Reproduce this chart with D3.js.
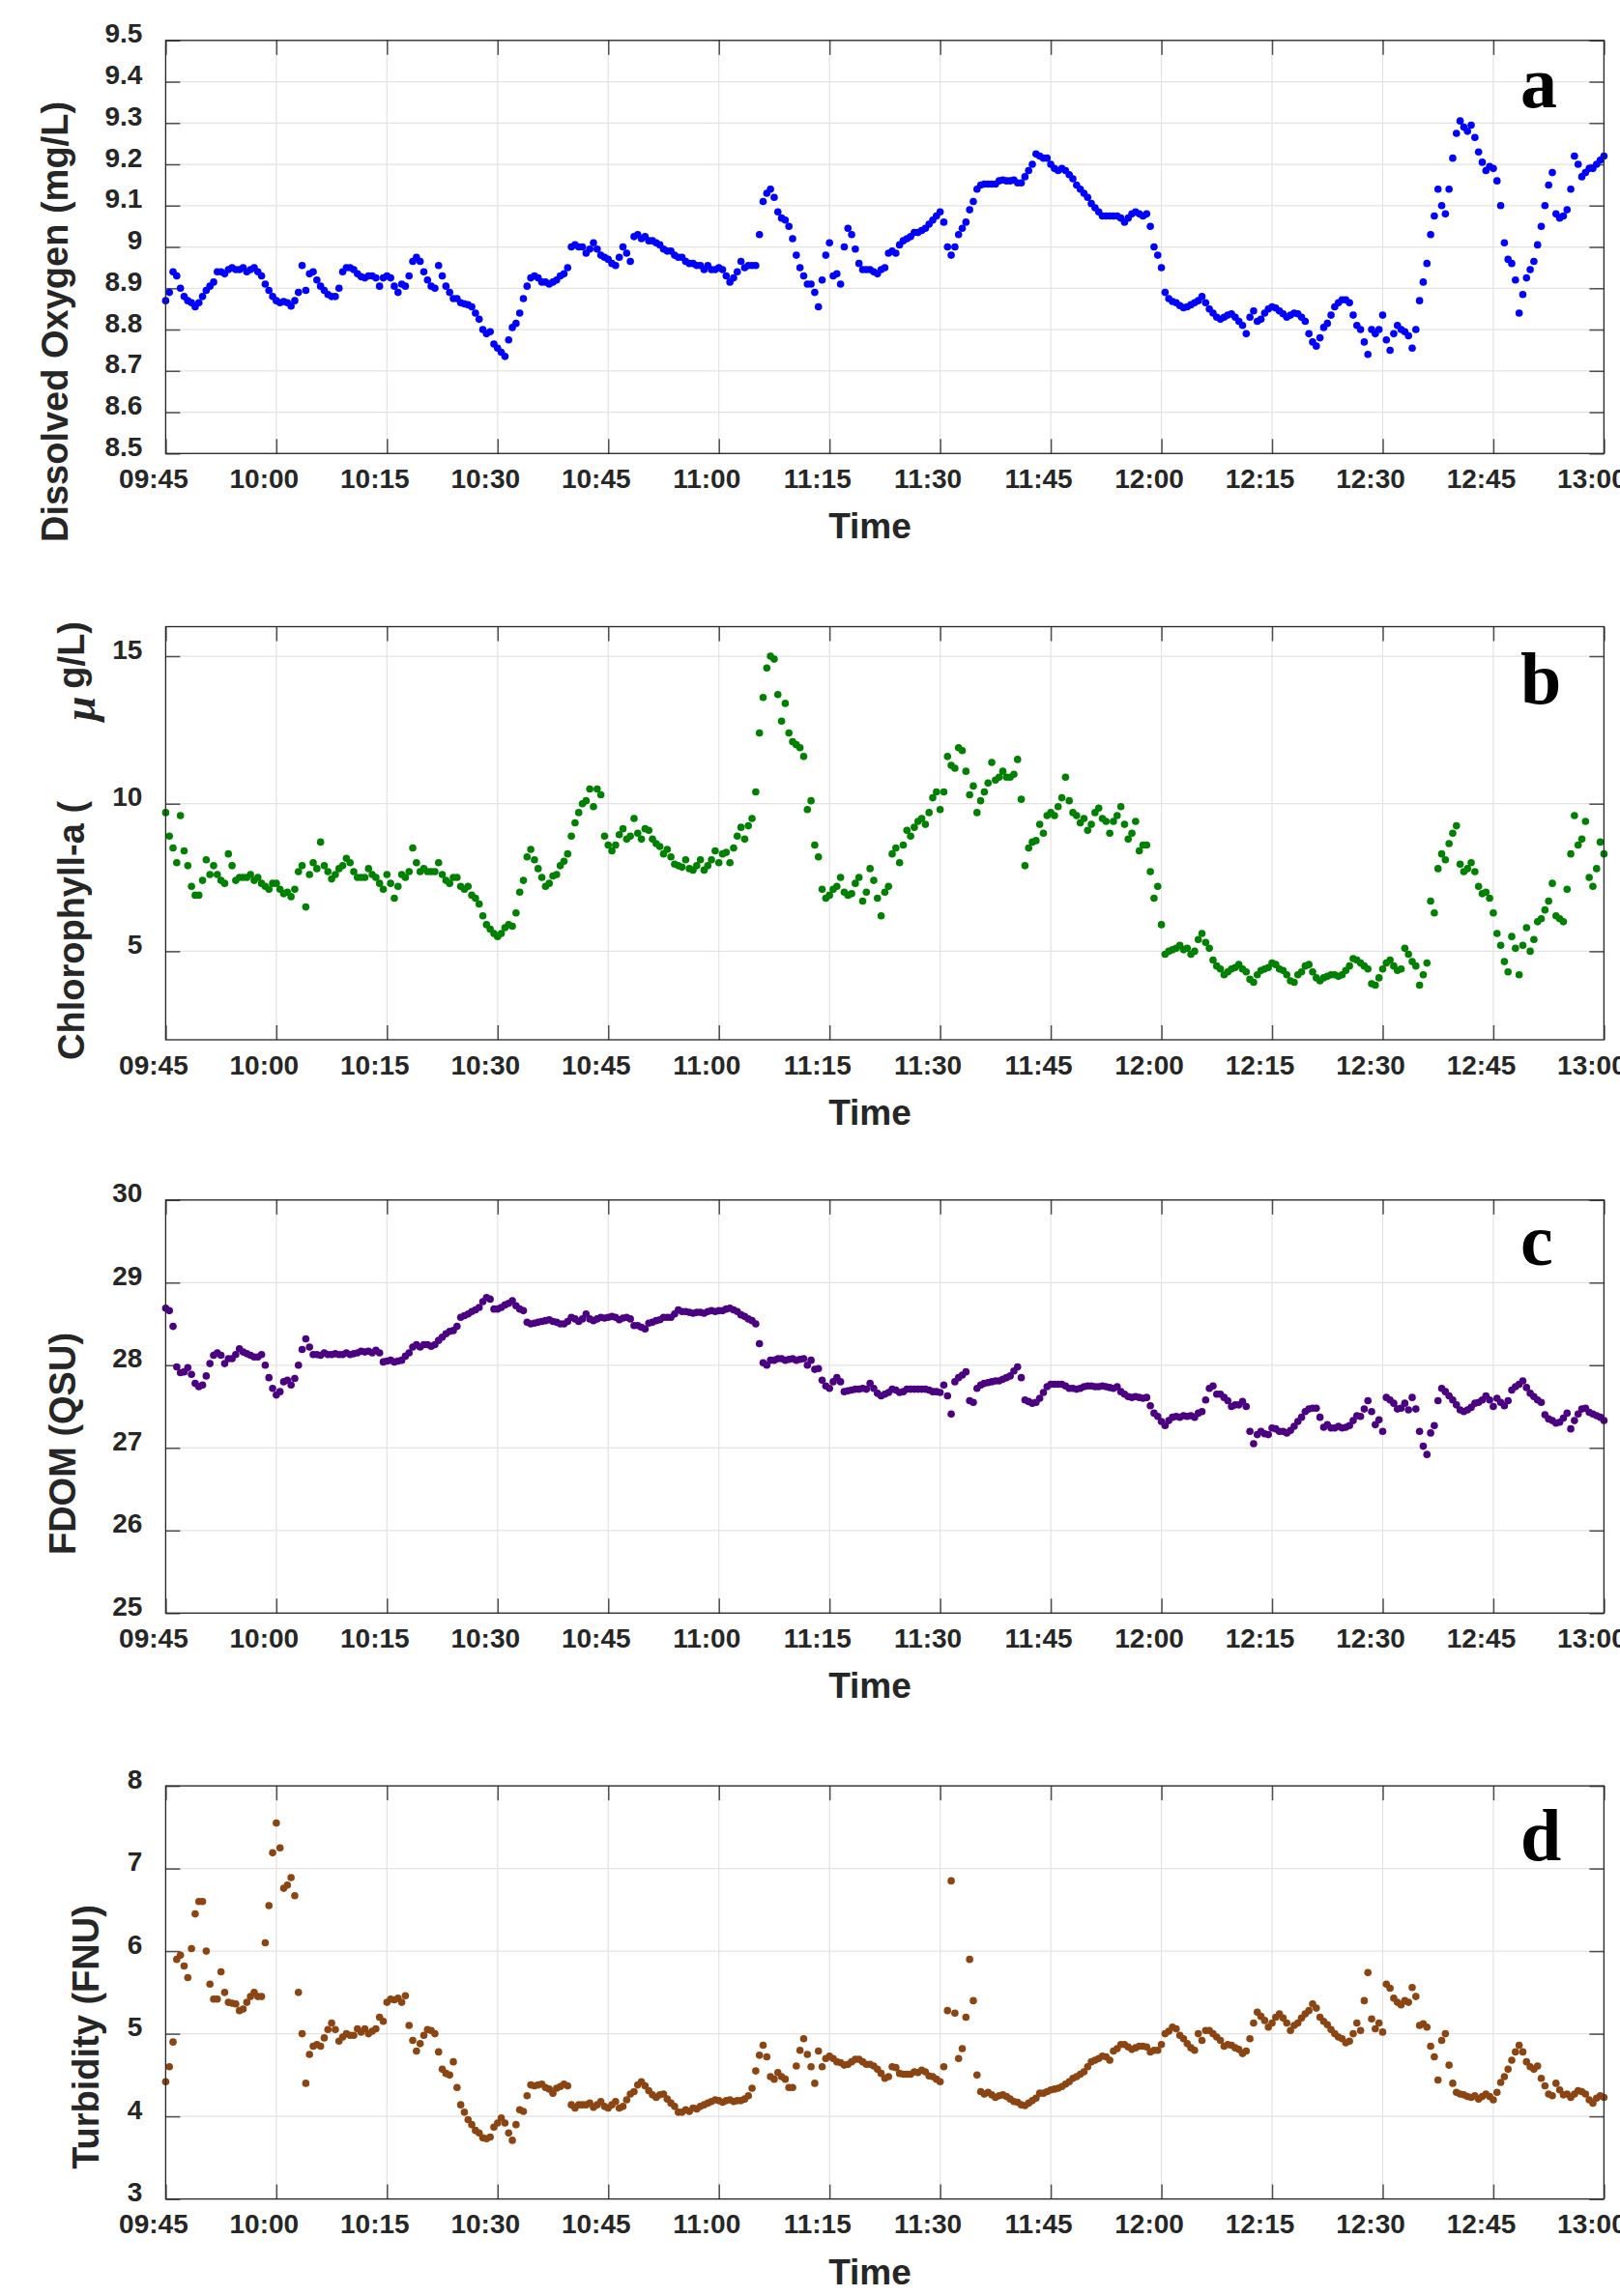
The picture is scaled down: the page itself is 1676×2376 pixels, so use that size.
<!DOCTYPE html>
<meta charset="utf-8">
<script src="https://d3js.org/d3.v7.min.js"></script>
<style>
  body { margin: 0; background: #fff; }
</style>
<svg id="chart" width="1676" height="2376"></svg>

<script>
  // sampling grid of the logger: one reading every 30 s
  const startTime = "09:45";
  const endTime = "13:00";
  const stepSeconds = 30;
  const timeTicks = ["09:45", "10:00", "10:15", "10:30", "10:45", "11:00", "11:15",
    "11:30", "11:45", "12:00", "12:15", "12:30", "12:45", "13:00"];

  // Dissolved oxygen (mg/L), one line per 15 minutes
  const doValues = [
    8.87,8.89,8.94,8.93,8.90,8.88,8.87,8.865,8.855,8.865,8.88,8.895,8.905,8.915,8.94,8.94,8.935,8.945,8.95,8.945,8.945,8.95,8.94,8.945,8.95,8.94,8.93,8.91,8.895,8.88,
    8.87,8.865,8.868,8.865,8.857,8.87,8.89,8.955,8.895,8.935,8.94,8.92,8.905,8.895,8.885,8.88,8.88,8.90,8.94,8.95,8.95,8.945,8.935,8.928,8.925,8.93,8.93,8.925,8.905,8.925,
    8.93,8.925,8.905,8.89,8.91,8.905,8.93,8.965,8.975,8.965,8.94,8.92,8.905,8.90,8.955,8.93,8.905,8.89,8.875,8.875,8.865,8.862,8.86,8.855,8.84,8.825,8.80,8.79,8.795,8.765,
    8.755,8.745,8.735,8.775,8.805,8.815,8.84,8.875,8.905,8.925,8.93,8.925,8.915,8.915,8.91,8.915,8.92,8.93,8.935,8.95,9.00,9.005,9.00,9.00,8.985,8.995,9.01,8.995,8.98,8.975,
    8.97,8.96,8.955,8.975,9.0,8.985,8.965,9.025,9.03,9.02,9.025,9.015,9.015,9.01,9.005,8.995,8.99,8.99,8.98,8.975,8.975,8.965,8.96,8.96,8.955,8.955,8.945,8.955,8.945,8.945,
    8.95,8.945,8.93,8.915,8.925,8.94,8.965,8.95,8.955,8.955,8.955,9.03,9.11,9.13,9.14,9.12,9.085,9.07,9.065,9.05,9.02,8.98,8.95,8.93,8.91,8.91,8.89,8.855,8.92,8.98,
    9.01,8.93,8.935,8.91,9.0,9.045,9.03,8.995,8.96,8.945,8.945,8.945,8.94,8.935,8.945,8.95,8.985,8.99,8.985,9.005,9.015,9.02,9.025,9.035,9.035,9.04,9.045,9.055,9.065,9.075,
    9.085,9.06,9.0,8.98,9.0,9.03,9.045,9.06,9.09,9.11,9.14,9.15,9.152,9.152,9.152,9.152,9.16,9.162,9.16,9.16,9.162,9.155,9.155,9.17,9.185,9.2,9.225,9.22,9.215,9.215,
    9.2,9.19,9.185,9.19,9.185,9.175,9.165,9.15,9.14,9.13,9.12,9.105,9.095,9.085,9.075,9.075,9.075,9.075,9.075,9.07,9.06,9.07,9.08,9.085,9.08,9.075,9.08,9.05,9.0,8.98,
    8.95,8.89,8.875,8.868,8.865,8.858,8.853,8.855,8.86,8.865,8.87,8.88,8.865,8.85,8.84,8.83,8.825,8.83,8.835,8.838,8.83,8.82,8.81,8.79,8.83,8.845,8.82,8.825,8.84,8.85,
    8.855,8.852,8.845,8.838,8.83,8.835,8.84,8.838,8.83,8.82,8.79,8.77,8.76,8.78,8.805,8.815,8.835,8.855,8.865,8.872,8.872,8.865,8.835,8.81,8.8,8.77,8.74,8.8,8.79,8.8,
    8.835,8.775,8.75,8.79,8.81,8.8,8.795,8.785,8.755,8.8,8.87,8.915,8.96,9.03,9.075,9.14,9.1,9.08,9.14,9.215,9.275,9.305,9.29,9.28,9.295,9.265,9.23,9.205,9.185,9.195,
    9.19,9.16,9.1,9.01,8.97,8.96,8.92,8.84,8.885,8.925,8.945,8.965,9.005,9.05,9.1,9.15,9.18,9.08,9.07,9.075,9.09,9.14,9.22,9.2,9.17,9.18,9.19,9.19,9.2,9.21,9.22
  ];

  // Chlorophyll-a (ug/L)
  const chlValues = [
    9.7,8.9,8.5,8.0,9.6,8.4,7.9,7.2,6.9,6.9,7.4,8.1,7.6,7.9,7.6,7.4,7.3,8.3,7.9,7.4,7.5,7.5,7.5,7.6,7.4,7.5,7.3,7.2,7.1,7.3,
    7.3,7.1,6.95,7.0,6.85,7.1,7.7,7.9,6.5,7.6,8.0,7.8,8.7,7.9,7.7,7.45,7.6,7.8,7.9,8.15,8.0,7.7,7.5,7.5,7.5,7.8,7.6,7.5,7.3,7.1,
    7.6,7.3,6.8,7.2,7.6,7.5,7.7,8.5,8.0,7.7,7.8,7.7,7.7,7.7,8.0,7.6,7.4,7.3,7.5,7.5,7.2,7.1,7.2,6.9,6.8,6.6,6.2,5.9,5.75,5.6,
    5.5,5.6,5.8,5.9,5.85,6.3,7.0,7.4,8.2,8.45,8.1,7.8,7.5,7.2,7.3,7.55,7.6,7.9,8.05,8.3,8.9,9.35,9.7,10.0,10.1,10.5,9.9,10.5,10.3,8.9,
    8.6,8.4,8.6,8.95,9.15,8.8,8.9,9.5,9.0,8.8,9.15,9.1,8.8,8.65,8.55,8.3,8.45,8.2,7.95,7.9,7.85,8.1,7.8,7.75,7.9,8.1,7.75,7.9,8.1,8.4,
    8.0,8.3,8.35,8.0,8.5,8.9,9.2,8.8,9.25,9.5,10.4,12.4,13.6,14.6,15.0,14.9,13.7,12.8,13.4,12.4,12.1,12.0,11.9,11.6,9.8,10.1,8.6,8.2,7.1,6.8,
    6.9,7.1,7.2,7.5,7.0,6.9,6.95,7.3,7.5,6.7,7.0,7.8,7.4,6.8,6.2,7.0,7.2,8.3,8.5,8.0,8.6,9.1,8.9,9.2,9.4,9.5,9.3,9.7,10.2,10.4,
    9.8,10.4,11.6,11.3,11.2,11.9,11.8,11.1,10.3,10.6,9.7,10.1,10.4,10.7,11.4,10.8,10.9,11.1,10.9,10.9,11.0,11.5,10.15,7.9,8.5,8.7,8.75,9.3,9.0,9.6,
    9.7,9.6,9.9,10.2,10.9,10.1,9.7,9.6,9.35,9.5,9.1,9.3,9.7,9.85,9.5,9.4,9.0,9.4,9.6,9.9,9.3,8.8,9.0,9.4,8.4,8.6,8.6,7.7,6.8,7.2,
    5.9,4.9,5.0,5.05,5.1,5.2,5.05,5.1,4.9,5.0,5.4,5.6,5.3,5.1,4.7,4.5,4.4,4.2,4.3,4.4,4.45,4.55,4.4,4.3,4.05,3.95,4.2,4.35,4.4,4.45,
    4.6,4.55,4.4,4.35,4.2,4.0,3.95,4.2,4.3,4.5,4.55,4.3,4.1,4.0,4.1,4.15,4.2,4.2,4.15,4.2,4.35,4.5,4.75,4.7,4.6,4.5,4.4,3.9,3.85,4.1,
    4.4,4.6,4.7,4.5,4.35,4.4,5.1,4.9,4.65,4.5,3.85,4.2,4.6,6.7,6.3,7.8,8.3,8.1,8.65,9.0,9.25,7.95,7.7,7.8,8.0,7.7,7.2,6.95,7.0,6.8,
    6.3,5.6,5.2,4.65,4.3,5.5,5.1,4.2,5.2,5.8,5.0,5.4,6.0,6.1,6.4,6.7,7.3,6.2,6.1,6.0,7.1,8.3,9.6,8.6,8.8,9.4,7.5,7.2,7.8,8.7,8.3
  ];

  // FDOM (QSU)
  const fdomValues = [
    28.69,28.66,28.47,27.98,27.91,27.92,27.97,27.89,27.78,27.74,27.76,27.87,28.02,28.12,28.15,28.12,28.02,28.08,28.08,28.13,28.2,28.16,28.14,28.12,28.1,28.1,28.13,28.0,27.85,27.72,
    27.64,27.68,27.8,27.82,27.76,27.84,28.0,28.19,28.32,28.22,28.13,28.13,28.12,28.15,28.13,28.13,28.14,28.13,28.13,28.15,28.13,28.14,28.15,28.17,28.16,28.17,28.15,28.18,28.15,28.04,
    28.05,28.06,28.04,28.05,28.06,28.11,28.15,28.22,28.25,28.22,28.25,28.25,28.23,28.25,28.3,28.34,28.38,28.41,28.42,28.47,28.58,28.6,28.62,28.65,28.67,28.7,28.77,28.82,28.8,28.68,
    28.68,28.7,28.73,28.75,28.78,28.72,28.68,28.66,28.52,28.5,28.51,28.52,28.53,28.54,28.55,28.53,28.52,28.5,28.5,28.53,28.58,28.56,28.53,28.56,28.62,28.56,28.54,28.56,28.58,28.57,
    28.58,28.59,28.58,28.55,28.57,28.58,28.56,28.48,28.48,28.46,28.44,28.51,28.52,28.54,28.55,28.58,28.58,28.58,28.62,28.67,28.65,28.65,28.64,28.63,28.64,28.64,28.63,28.65,28.66,28.65,
    28.66,28.66,28.68,28.69,28.67,28.65,28.61,28.59,28.56,28.54,28.5,28.26,28.03,28.0,28.06,28.06,28.08,28.08,28.06,28.07,28.08,28.06,28.07,28.08,28.0,28.06,27.95,27.96,27.82,27.75,
    27.72,27.8,27.85,27.8,27.68,27.69,27.7,27.71,27.71,27.72,27.71,27.78,27.72,27.66,27.63,27.65,27.67,27.71,27.7,27.67,27.68,27.71,27.71,27.71,27.71,27.71,27.71,27.7,27.68,27.68,
    27.67,27.76,27.63,27.41,27.8,27.85,27.88,27.92,27.57,27.55,27.72,27.76,27.78,27.79,27.8,27.81,27.81,27.83,27.85,27.87,27.93,27.98,27.85,27.58,27.56,27.54,27.55,27.6,27.67,27.74,
    27.77,27.77,27.77,27.77,27.75,27.72,27.72,27.71,27.72,27.74,27.75,27.75,27.74,27.74,27.75,27.74,27.73,27.72,27.74,27.68,27.65,27.62,27.61,27.62,27.61,27.6,27.61,27.51,27.42,27.38,
    27.32,27.27,27.33,27.37,27.38,27.37,27.39,27.38,27.39,27.37,27.42,27.44,27.58,27.72,27.75,27.65,27.65,27.61,27.57,27.5,27.52,27.52,27.56,27.5,27.2,27.05,27.16,27.2,27.17,27.16,
    27.24,27.23,27.2,27.2,27.18,27.21,27.26,27.32,27.37,27.44,27.47,27.48,27.48,27.37,27.25,27.28,27.24,27.24,27.26,27.24,27.25,27.27,27.33,27.39,27.38,27.47,27.57,27.44,27.28,27.34,
    27.2,27.61,27.58,27.54,27.47,27.48,27.54,27.46,27.61,27.47,27.2,27.02,26.92,27.18,27.27,27.57,27.72,27.68,27.63,27.58,27.52,27.46,27.44,27.46,27.49,27.54,27.55,27.58,27.63,27.58,
    27.5,27.6,27.55,27.51,27.57,27.7,27.74,27.77,27.81,27.73,27.66,27.62,27.58,27.55,27.4,27.35,27.33,27.3,27.31,27.36,27.42,27.23,27.33,27.41,27.47,27.48,27.43,27.41,27.39,27.37,27.33
  ];

  // Turbidity (FNU)
  const turbValues = [
    4.42,4.6,4.9,5.9,5.95,5.82,5.68,6.03,6.45,6.6,6.6,6.0,5.6,5.42,5.42,5.75,5.5,5.38,5.37,5.36,5.28,5.3,5.38,5.45,5.5,5.45,5.45,6.1,6.55,7.19,
    7.55,7.25,6.76,6.8,6.89,6.67,5.5,5.0,4.4,4.75,4.85,4.87,4.85,4.95,5.05,5.13,5.05,4.91,4.96,5.0,4.98,4.98,5.06,5.02,5.06,5.0,5.03,5.06,5.2,5.15,
    5.38,5.42,5.41,5.43,5.38,5.46,5.1,4.92,4.79,4.88,4.98,5.05,5.04,5.0,4.78,4.57,4.52,4.5,4.66,4.35,4.14,4.05,3.96,3.9,3.83,3.8,3.74,3.73,3.75,3.87,
    3.92,3.98,3.92,3.8,3.71,3.9,4.08,4.06,4.25,4.38,4.37,4.38,4.39,4.35,4.33,4.28,4.34,4.36,4.39,4.37,4.14,4.1,4.14,4.14,4.14,4.16,4.11,4.14,4.18,4.12,
    4.1,4.14,4.18,4.1,4.12,4.2,4.27,4.3,4.38,4.42,4.37,4.31,4.26,4.23,4.26,4.27,4.21,4.16,4.12,4.05,4.05,4.08,4.06,4.1,4.09,4.12,4.14,4.16,4.18,4.2,
    4.19,4.17,4.19,4.2,4.18,4.19,4.19,4.21,4.25,4.34,4.55,4.74,4.86,4.72,4.48,4.45,4.53,4.48,4.45,4.35,4.35,4.61,4.8,4.94,4.75,4.6,4.4,4.79,4.6,4.7,
    4.73,4.7,4.66,4.65,4.62,4.63,4.66,4.69,4.69,4.66,4.63,4.63,4.61,4.57,4.52,4.46,4.48,4.6,4.59,4.52,4.51,4.51,4.51,4.54,4.53,4.56,4.54,4.49,4.48,4.45,
    4.42,4.6,5.28,6.85,5.25,4.7,4.82,5.2,5.9,5.4,4.5,4.3,4.27,4.29,4.26,4.23,4.25,4.26,4.24,4.21,4.18,4.17,4.14,4.13,4.16,4.19,4.22,4.28,4.28,4.3,
    4.32,4.33,4.34,4.36,4.39,4.42,4.46,4.48,4.51,4.54,4.6,4.66,4.68,4.7,4.73,4.72,4.68,4.79,4.82,4.87,4.87,4.84,4.81,4.83,4.85,4.85,4.84,4.78,4.8,4.8,
    4.87,5.0,5.03,5.08,5.06,4.98,4.94,4.88,4.83,4.8,5.0,4.92,5.04,5.04,5.0,4.96,4.92,4.85,4.87,4.86,4.83,4.81,4.76,4.79,4.94,5.13,5.26,5.21,5.16,5.08,
    5.13,5.2,5.24,5.19,5.13,5.04,5.1,5.13,5.19,5.24,5.28,5.36,5.31,5.2,5.15,5.11,5.05,5.0,4.96,4.94,4.89,4.91,5.0,5.13,5.04,5.4,5.74,5.18,5.06,5.13,
    5.02,5.6,5.55,5.43,5.38,5.35,5.4,5.38,5.56,5.45,5.1,5.12,5.08,4.85,4.72,4.44,4.92,5.0,4.62,4.4,4.29,4.27,4.26,4.24,4.23,4.25,4.21,4.24,4.27,4.24,
    4.2,4.29,4.41,4.48,4.57,4.68,4.78,4.86,4.78,4.66,4.6,4.57,4.61,4.46,4.37,4.27,4.25,4.4,4.32,4.26,4.27,4.23,4.27,4.31,4.3,4.27,4.2,4.16,4.22,4.25,4.23
  ];

  // y axes
  const doDomain = [8.5, 9.5];
  const doTicks = [8.5, 8.6, 8.7, 8.8, 8.9, 9.0, 9.1, 9.2, 9.3, 9.4, 9.5];
  const chlDomain = [2, 16];
  const chlTicks = [5, 10, 15];
  const fdomDomain = [25, 30];
  const fdomTicks = [25, 26, 27, 28, 29, 30];
  const turbDomain = [3, 8];
  const turbTicks = [3, 4, 5, 6, 7, 8];

  // ---- layout ----
  const left = 171.4, right = 1659.4, plotH = 427.5;
  const sans = "'Liberation Sans', Arial, Helvetica, sans-serif";
  const serif = "'Liberation Serif', 'Times New Roman', serif";
  const ink = "#262626";

  const panels = [
    { values: doValues, domain: doDomain, ticks: doTicks, color: "#0000ff", letter: "a",
      top: 41.8, letterY: 69, label: "Dissolved Oxygen (mg/L)", labelX: 70, labelY: 333 },
    { values: chlValues, domain: chlDomain, ticks: chlTicks, color: "#008000", letter: "b",
      top: 648.5, letterY: 79, label: null },
    { values: fdomValues, domain: fdomDomain, ticks: fdomTicks, color: "#4b0082", letter: "c",
      top: 1241.8, letterY: 67, label: "FDOM (QSU)", labelX: 78, labelY: 1494 },
    { values: turbValues, domain: turbDomain, ticks: turbTicks, color: "#8b4513", letter: "d",
      top: 1848.1, letterY: 77, label: "Turbidity (FNU)", labelX: 102, labelY: 2108 }
  ];

  const svg = d3.select("#chart");
  svg.append("rect").attr("width", 1676).attr("height", 2376).attr("fill", "#fff");

  const parse = d3.timeParse("%H:%M");
  const t0 = parse(startTime);
  const x = d3.scaleTime()
    .domain([t0, parse(endTime)])
    .range([left, right]);
  const xTickValues = timeTicks.map(parse);

  function styleAxis(g) {
    g.select(".domain").remove();
    g.selectAll(".tick line").attr("stroke", "#4d4d4d").attr("stroke-width", 1.5);
    g.attr("font-family", sans).attr("font-size", 28).attr("font-weight", "bold");
    g.selectAll("text").attr("fill", ink);
  }

  panels.forEach(p => {
    const g = svg.append("g").attr("transform", `translate(0,${p.top})`);
    const y = d3.scaleLinear().domain(p.domain).range([plotH, 0]);

    // grid
    g.append("g")
      .selectAll("line.vg")
      .data(xTickValues)
      .join("line")
      .attr("x1", d => x(d)).attr("x2", d => x(d))
      .attr("y1", 0).attr("y2", plotH)
      .attr("stroke", "#e3e3e3").attr("stroke-width", 1.2);
    g.append("g")
      .selectAll("line.hg")
      .data(p.ticks)
      .join("line")
      .attr("x1", left).attr("x2", right)
      .attr("y1", d => y(d)).attr("y2", d => y(d))
      .attr("stroke", "#e3e3e3").attr("stroke-width", 1.2);

    // axes, ticks pointing inward on all four sides
    g.append("g")
      .attr("transform", `translate(0,${plotH})`)
      .call(d3.axisBottom(x).tickValues(xTickValues).tickSize(-15).tickSizeOuter(0)
        .tickPadding(16).tickFormat(d3.timeFormat("%H:%M")))
      .call(styleAxis)
      .selectAll("text").attr("dx", -13);
    g.append("g")
      .call(d3.axisTop(x).tickValues(xTickValues).tickSize(-15).tickSizeOuter(0).tickFormat(""))
      .call(styleAxis);
    g.append("g")
      .attr("transform", `translate(${left},0)`)
      .call(d3.axisLeft(y).tickValues(p.ticks).tickSize(-15).tickSizeOuter(0)
        .tickPadding(24).tickFormat(d3.format("~g")))
      .call(styleAxis)
      .selectAll("text").attr("transform", "translate(0,-7)");
    g.append("g")
      .attr("transform", `translate(${right},0)`)
      .call(d3.axisRight(y).tickValues(p.ticks).tickSize(-15).tickSizeOuter(0).tickFormat(""))
      .call(styleAxis);

    // readings
    g.append("g")
      .selectAll("circle")
      .data(p.values)
      .join("circle")
      .attr("cx", (d, i) => x(d3.timeSecond.offset(t0, i * stepSeconds)))
      .attr("cy", d => y(d))
      .attr("r", 3.8)
      .attr("fill", p.color);

    // box
    g.append("rect")
      .attr("x", left).attr("y", 0)
      .attr("width", right - left).attr("height", plotH)
      .attr("fill", "none").attr("stroke", ink).attr("stroke-width", 1.3);

    // x label
    g.append("text")
      .attr("x", 900).attr("y", plotH + 88)
      .attr("text-anchor", "middle")
      .attr("font-family", sans).attr("font-size", 37).attr("font-weight", "bold")
      .attr("fill", ink)
      .text("Time");

    // panel letter
    g.append("text")
      .attr("x", 1573).attr("y", p.letterY)
      .attr("font-family", serif).attr("font-size", 76).attr("font-weight", "bold")
      .attr("fill", "#000")
      .text(p.letter);

    // y label
    if (p.label) {
      svg.append("text")
        .attr("transform", `translate(${p.labelX},${p.labelY}) rotate(-90)`)
        .attr("text-anchor", "middle")
        .attr("font-family", sans).attr("font-size", 38).attr("font-weight", "bold")
        .attr("fill", ink)
        .text(p.label);
    }
  });

  // chlorophyll label is split the way the original export rendered it
  svg.append("text")
    .attr("transform", "translate(87,1097) rotate(-90)")
    .attr("font-family", sans).attr("font-size", 38).attr("font-weight", "bold")
    .attr("fill", ink)
    .text("Chlorophyll-a (");
  svg.append("text")
    .attr("transform", "translate(98,746) rotate(-90)")
    .attr("font-family", serif).attr("font-size", 46).attr("font-style", "italic")
    .attr("font-weight", "bold")
    .attr("fill", ink)
    .text("\u03bc");
  svg.append("text")
    .attr("transform", "translate(87,643) rotate(-90)")
    .attr("text-anchor", "end")
    .attr("font-family", sans).attr("font-size", 38).attr("font-weight", "bold")
    .attr("fill", ink)
    .text("g/L)");
</script>
